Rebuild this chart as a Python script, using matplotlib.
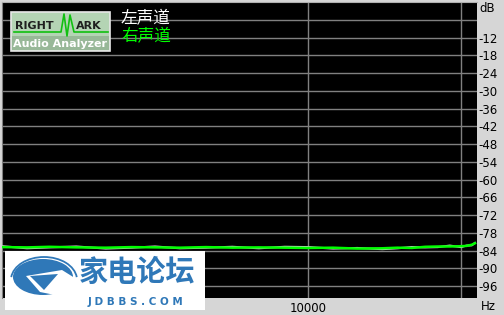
import numpy as np
import matplotlib
matplotlib.use('Agg')
import matplotlib.pyplot as plt
from matplotlib.patches import Rectangle, Ellipse, Polygon, Arc

plt.rcParams['font.family'] = ['DejaVu Sans']

# frequency points (Hz) and levels (dB)
freq = [2500, 2800, 3100, 3500, 4000, 4500, 5000, 5600, 6300, 7100, 8000, 9000,
        10000, 11200, 12500, 14000, 15000, 16000, 17000, 18000, 19000, 20000,
        20500, 21000, 21300]
right_db = [-82.8, -82.9, -82.7, -82.9, -83.0, -82.8, -82.9, -83.0, -82.8, -83.0,
            -82.9, -83.0, -83.1, -83.0, -83.3, -83.2, -83.0, -83.1, -82.7, -82.6,
            -82.6, -82.5, -82.4, -82.0, -81.5]
left_db = [-82.5, -83.2, -82.9, -82.6, -83.3, -83.0, -82.6, -83.2, -83.0, -82.7,
           -83.2, -82.7, -82.8, -83.3, -83.1, -83.5, -83.2, -82.8, -82.9, -82.8,
           -82.3, -82.8, -82.3, -82.2, -81.4]

y_ticks = [-6, -12, -18, -24, -30, -36, -42, -48, -54, -60, -66, -72, -78, -84, -90, -96]
y_labels = ['' if t == -6 else str(t) for t in y_ticks]
x_ticks = [10000, 20000]
x_labels = ['10000', '']

bg = '#d6d6d6'
grid_c = '#808080'

W, H = 504, 315
fig = plt.figure(figsize=(W / 100, H / 100), dpi=100, facecolor=bg)
ax = fig.add_axes([2 / W, (H - 298) / H, 475 / W, 296 / H])
ax.set_facecolor('black')

ax.plot(freq, left_db, color='#d0d0d0', lw=1.5, zorder=3)
ax.plot(freq, right_db, color='#00ff00', lw=1.8, zorder=4)

ax.set_xscale('log')
ax.set_xlim(2500, 21500)
ax.set_ylim(-100, 0)
ax.set_xticks(x_ticks)
ax.set_xticklabels(x_labels)
ax.xaxis.set_minor_locator(matplotlib.ticker.NullLocator())
ax.set_yticks(y_ticks)
ax.set_yticklabels(y_labels)
ax.yaxis.tick_right()
ax.tick_params(length=0, labelsize=8.5, colors='black', pad=1)
ax.tick_params(axis='x', pad=3)
for lab in ax.get_yticklabels():
    lab.set_horizontalalignment('left')
ax.grid(True, color=grid_c, lw=1)
ax.set_axisbelow(True)
for s in ax.spines.values():
    s.set_visible(False)
ax.spines['top'].set_visible(True)
ax.spines['top'].set_color('#b0b0b0')
ax.spines['left'].set_visible(True)
ax.spines['left'].set_color(grid_c)

# overlay in pixel coordinates for labels and logos
ov = fig.add_axes([0, 0, 1, 1])
ov.set_xlim(0, W)
ov.set_ylim(H, 0)
ov.axis('off')

ov.text(479, 8, 'dB', fontsize=8.5, va='center', ha='left')
ov.text(481, 306, 'Hz', fontsize=8.5, va='center', ha='left')

cjk = ['Noto Sans CJK SC', 'DejaVu Sans']
ov.text(121, 19, '左声道', color='white', fontsize=12, va='center', family=cjk)
ov.text(121, 37, '右声道', color='#00ff00', fontsize=12, va='center', family=cjk)

# RightMark logo
ov.add_patch(Rectangle((11, 12), 99, 39, facecolor='#b4d4b4', edgecolor='#e8e8e8', lw=1.2))
ov.add_patch(Rectangle((12, 36), 97, 14, facecolor='#98b898', edgecolor='none'))
ov.plot([14, 61, 64, 67, 70, 74, 108], [32, 32, 14, 36, 15, 32, 32], color='#10c010', lw=1.2)
ov.text(15, 26, 'RIGHT', fontsize=8, weight='bold', color='#202020', va='center')
ov.text(76, 26, 'ARK', fontsize=8, weight='bold', color='#202020', va='center')
ov.text(60, 44, 'Audio Analyzer', fontsize=8, weight='bold', color='white', ha='center', va='center')

# JDBBS logo
blue = '#2f78b8'
ov.add_patch(Rectangle((5, 251), 200, 59, facecolor='white', edgecolor='none', zorder=5))
ov.add_patch(Ellipse((43, 277), 60, 36, facecolor=blue, edgecolor='none', zorder=6))
ov.add_patch(Polygon([[26, 276], [62, 270], [78, 280], [60, 296], [40, 292]],
                     facecolor='white', edgecolor='none', zorder=7))
ov.add_patch(Polygon([[30, 276], [58, 274], [44, 290]], facecolor=blue, edgecolor='none', zorder=8))
ov.add_patch(Arc((44, 280), 66, 46, theta1=185, theta2=355, color=blue, lw=1.3, zorder=8))
ov.text(137, 272, '家电论坛', color=blue, fontsize=21, weight='bold', ha='center', va='center',
        family=cjk, zorder=9)
ov.text(135, 302, 'J D B B S . C O M', color=blue, fontsize=7.5, weight='bold', ha='center',
        va='center', zorder=9)

fig.savefig('out.png', dpi=100, facecolor=bg)
